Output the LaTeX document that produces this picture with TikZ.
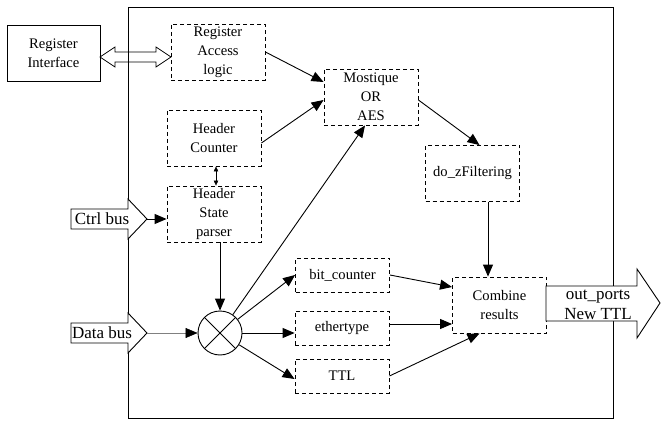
\documentclass[tikz,border=0pt]{standalone}
\usepackage{fontspec}
\setmainfont{Liberation Serif}
\usetikzlibrary{arrows.meta}

\begin{document}
\begin{tikzpicture}[x=1pt,y=-1pt,line width=0.9pt,
    every node/.style={font=\fontsize{14.6}{19}\selectfont,align=center,inner sep=0pt},
    unit/.style={draw,dash pattern=on 4pt off 3pt,minimum width=94pt,minimum height=56pt},
    small unit/.style={unit,minimum height=34pt},
    bus/.style={draw,fill=white},
    buslabel/.style={font=\fontsize{17}{20}\selectfont},
    >={Triangle[length=12pt,width=10pt]}]

  \useasboundingbox (0,0) rectangle (661,422);

  % OUTER BOX
  \draw (128,7) rectangle (613,418);

  % BLOCKS
  \node[draw,minimum width=93pt,minimum height=56pt] (regif) at (53.5,53) {Register\\Interface};
  \node[unit] (ral)      at (218,52)    {Register\\Access\\logic};
  \node[unit] (mostique) at (371,97)    {Mostique\\OR\\AES};
  \node[unit] (hcount)   at (214,138)   {Header\\Counter};
  \node[unit] (hstate)   at (214,214)   {Header\\State\\parser};
  \node[unit] (dozf)     at (472.5,173.5) {do\_zFiltering};
  \node[unit] (combine)  at (499.5,305) {Combine\\results};
  \node[small unit] (bitc)  at (342.5,275) {bit\_counter};
  \node[small unit] (ether) at (342,328)   {ethertype};
  \node[small unit] (ttl)   at (342,376)   {TTL};

  % MUX
  \node[draw,circle,minimum size=44pt] (mux) at (220,333) {};
  \draw (mux.north west) -- (mux.south east)
        (mux.north east) -- (mux.south west);

  % BUSES
  \draw[line width=0.8pt] (100,57) -- (115,47) -- (115,52) -- (156,52) -- (156,47) -- (171,57)
        -- (156,67) -- (156,62) -- (115,62) -- (115,67) -- cycle;

  \draw[bus] (71,209) -- (128,209) -- (128,199) -- (147,219) -- (128,239) -- (128,229) -- (71,229) -- cycle;
  \node[buslabel] (ctrl) at (102,219) {Ctrl bus};
  \coordinate (ctrltip) at (147,219);

  \draw[bus] (71,323) -- (128,323) -- (128,313) -- (147,333) -- (128,353) -- (128,343) -- (71,343) -- cycle;
  \node[buslabel] (data) at (102,333) {Data bus};
  \coordinate (datatip) at (147,333);

  \draw[bus] (546,286) -- (637,286) -- (637,269) -- (660,303) -- (637,338) -- (637,321) -- (546,321) -- cycle;
  \node[buslabel] (outp) at (598,305) {out\_ports\\New TTL};

  % ARROWS
  \draw[->] (ral.east) -- ([yshift=15pt]mostique.west);
  \draw[->] ([yshift=-5pt]hcount.east) -- ([yshift=-3pt]mostique.west);
  \draw[->] ([yshift=-3pt]mostique.east) -- ([xshift=7pt]dozf.north);
  \draw[->] ([xshift=15.5pt]dozf.south) -- ([xshift=-11.5pt]combine.north);
  \draw[->] (bitc.east) -- ([yshift=18pt]combine.west);
  \draw[->] ([yshift=4pt]ether.east) -- ([yshift=-19pt]combine.west);
  \draw[->] (ttl.east) -- ([xshift=-20pt]combine.south);

  \draw[->] (mux.north |- hstate.south) -- (mux.north);
  \draw[->] (mux) -- ([xshift=-6pt]mostique.south);
  \draw[->] (mux) -- (bitc.west);
  \draw[->] (mux.east) -- (mux.east -| ether.west);
  \draw[->] (mux) -- ([yshift=-3pt]ttl.west);

  \draw[->] (ctrltip) -- (ctrltip -| hstate.west);
  \draw[-{Triangle[length=12pt,width=10pt,color=black]},draw=gray,line width=0.5pt] (datatip) -- (mux.west);

  \draw[{Triangle[length=5pt,width=4.5pt]}-{Triangle[length=5pt,width=4.5pt]},line width=0.5pt]
        ([xshift=2pt]hcount.south) -- ([xshift=2pt]hstate.north);

\end{tikzpicture}
\end{document}
